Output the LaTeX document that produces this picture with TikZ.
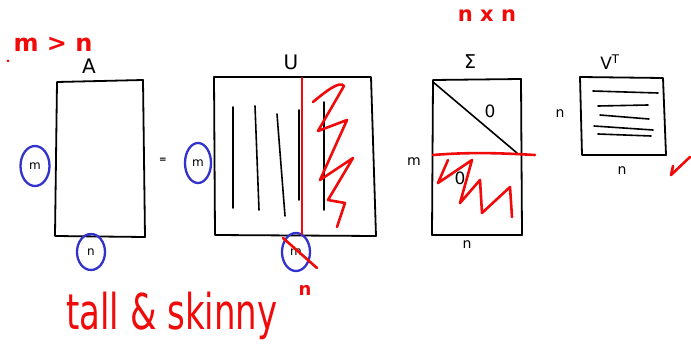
\documentclass[tikz,border=0pt]{standalone}
\usepackage{fontspec}
\setmainfont{DejaVu Sans}
\usetikzlibrary{shapes.geometric}
\definecolor{penred}{RGB}{240,10,10}
\definecolor{penblue}{RGB}{50,50,205}
\begin{document}
\begin{tikzpicture}[x=1pt,y=-1pt,
  box/.style={draw=black, line width=1.8pt, line join=round},
  ink/.style={draw=black, line width=1.6pt, line cap=round},
  redpen/.style={draw=penred, line width=2.6pt, line cap=round, line join=round},
  bluering/.style={draw=penblue, line width=2.3pt, ellipse, inner sep=0pt, font=\fontsize{12}{12}\selectfont},
  lbl/.style={inner sep=0pt, font=\fontsize{14}{14}\selectfont},
  biglbl/.style={inner sep=0pt, font=\fontsize{20}{20}\selectfont},
  redlbl/.style={inner sep=0pt, text=penred, font=\bfseries\fontsize{21}{21}\selectfont}]
\useasboundingbox (0,0) rectangle (691,345);
\fill[white] (0,0) rectangle (691,345);

% top-left condition
\node[redlbl, font=\bfseries\fontsize{24}{24}\selectfont] (cond) at (53,44) {m > n};
\fill[penred] (8,61) circle (1.5);

% A
\node[biglbl] (labA) at (89,66) {A};
\draw[box] (57,82) -- (143,80) -- (145,237) -- (55,236) -- cycle;
\node[bluering, minimum width=29pt, minimum height=40pt] (Am) at (35,166) {m};
\node[bluering, minimum width=28pt, minimum height=36pt] (An) at (91,252) {n};

% equals
\node[inner sep=0pt, font=\bfseries\fontsize{9}{9}\selectfont] (eq) at (163,160) {=};

% U
\node[biglbl] (labU) at (291,62) {U};
\draw[box] (214,77) -- (371,77) -- (376,236) -- (215,235) -- cycle;
\draw[ink] (233,107) -- (233,208);
\draw[ink] (255,106) -- (259,210);
\draw[ink] (277,114) -- (285,216);
\draw[ink] (299,110) -- (299,200);
\draw[ink] (324,102) -- (324,210);
\node[bluering, minimum width=26pt, minimum height=40pt] (Um) at (198,163) {m};
\node[bluering, minimum width=28pt, minimum height=38pt] (Un) at (296,252) {m};
\draw[redpen] (302,78) -- (302,234);
\draw[redpen] (313,102) .. controls (325,92) and (340,80) .. (344,86) -- (318,131) -- (347,120) -- (320,180)
  -- (353,158) -- (328,200) -- (345,203) -- (337,227);
\draw[redpen] (283,238) -- (317,268);
\node[redlbl, font=\bfseries\fontsize{18}{18}\selectfont] (redn) at (305,290) {n};

% tall & skinny
\node[inner sep=0pt, text=penred, font=\fontsize{34}{34}\selectfont, yscale=1.45] (tall) at (172,316) {tall \& skinny};

% Sigma
\node[redlbl] (nxn) at (487,16) {n x n};
\node[inner sep=0pt, font=\fontsize{19}{19}\selectfont] (labS) at (470,62) {Σ};
\draw[box] (433,80) -- (521,79) -- (522,235) -- (432,235) -- cycle;
\draw[ink] (433,82) -- (517,153);
\node[biglbl, font=\fontsize{17}{17}\selectfont] (z1) at (490,111) {0};
\node[biglbl, font=\fontsize{17}{17}\selectfont] (z2) at (460,178) {0};
\node[lbl] (Sm) at (414,162) {m};
\node[lbl] (Sn) at (467,245) {n};
\draw[redpen] (433,155) .. controls (470,152) and (500,153) .. (535,155);
\draw[redpen] (448,160) -- (438,183) -- (472,160) -- (460,203) -- (480,180) -- (482,213)
  -- (510,187) -- (512,217);

% V^T
\node[biglbl, font=\fontsize{17}{17}\selectfont] (labV) at (610,62) {V$^{\mathrm{T}}$};
\draw[box] (580,77) -- (663,78) -- (666,155) -- (582,155) -- cycle;
\draw[ink] (593,91) -- (658,93);
\draw[ink] (598,106) -- (648,105);
\draw[ink] (600,115) -- (649,119);
\draw[ink] (594,126) -- (653,130);
\draw[ink] (598,134) -- (651,136);
\node[lbl] (Vn1) at (560,114) {n};
\node[lbl] (Vn2) at (622,171) {n};
\draw[redpen] (673,166) -- (671,175) -- (690,157);
\end{tikzpicture}
\end{document}
